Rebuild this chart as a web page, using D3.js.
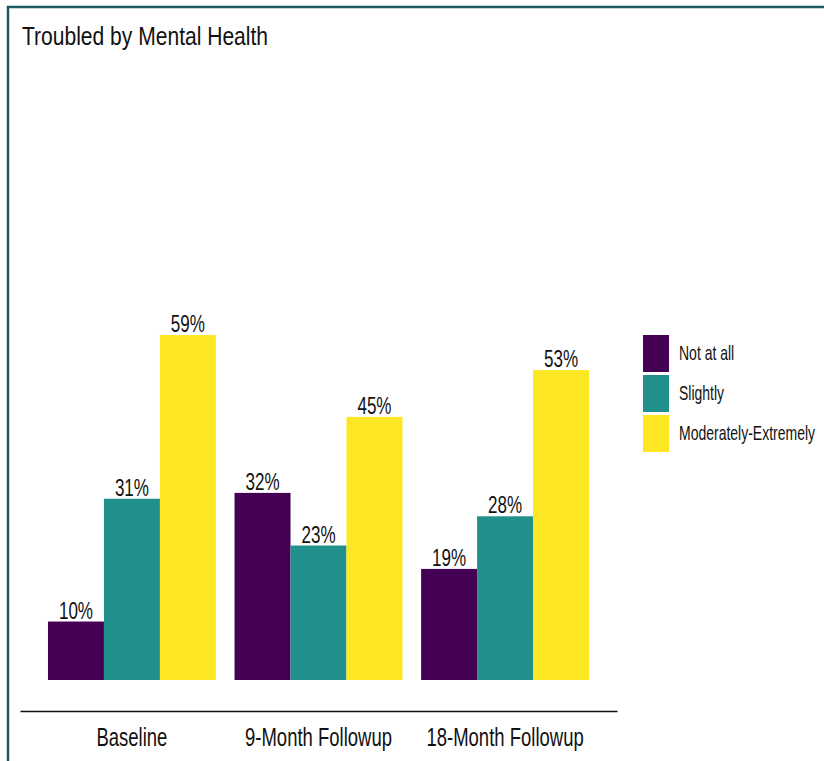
<!DOCTYPE html>
<html>
<head>
<meta charset="utf-8">
<script src="https://cdn.jsdelivr.net/npm/d3@7"></script>
<style>
  html, body { margin: 0; padding: 0; background: #fff; }
  svg { display: block; }
  text { font-family: "Liberation Sans", Arial, sans-serif; fill: #111; }
</style>
</head>
<body>
<svg id="chart" width="824" height="761"></svg>
<script>
// Survey waves shown along the x axis
const timepoints = ["Baseline", "9-Month Followup", "18-Month Followup"];
// Response levels (one bar per level within each wave)
const levels = ["Not at all", "Slightly", "Moderately-Extremely"];
// Share of respondents per level, one array per level, ordered by wave
const notAtAll = [0.10, 0.32, 0.19];
const slightly = [0.31, 0.23, 0.28];
const moderatelyExtremely = [0.59, 0.45, 0.53];
const levelColors = ["#440154", "#21908C", "#FDE725"];
const chartTitle = "Troubled by Mental Health";

const seriesValues = [notAtAll, slightly, moderatelyExtremely];
const rows = [];
timepoints.forEach((t, i) => {
  levels.forEach((lv, j) => rows.push({ time: t, level: lv, value: seriesValues[j][i] }));
});

// Horizontal squeeze used for the narrow lettering
const narrow = (sx) => `scale(${sx},1)`;

const svg = d3.select("#chart");

// Frame around the figure
svg.append("path")
  .attr("d", "M8,770 L8,7 L830,7")
  .attr("fill", "none")
  .attr("stroke", "#1d5960")
  .attr("stroke-width", 2.5);

svg.append("text")
  .attr("transform", "translate(22,45) " + narrow(0.81))
  .attr("font-size", 26)
  .text(chartTitle);

const x0 = d3.scaleBand().domain(timepoints).range([20, 617])
  .paddingInner(0.1).paddingOuter(0.15);
const x1 = d3.scaleBand().domain(levels).range([0, x0.bandwidth()]);
const y = d3.scaleLinear().domain([0, 1]).range([680, 95.3]);
const color = d3.scaleOrdinal().domain(levels).range(levelColors);

const groups = svg.append("g").selectAll("g")
  .data(timepoints).join("g")
  .attr("transform", d => `translate(${x0(d)},0)`);

groups.selectAll("rect")
  .data(t => rows.filter(r => r.time === t))
  .join("rect")
  .attr("x", d => x1(d.level))
  .attr("y", d => y(d.value))
  .attr("width", x1.bandwidth())
  .attr("height", d => y(0) - y(d.value))
  .attr("fill", d => color(d.level));

groups.selectAll("text.val")
  .data(t => rows.filter(r => r.time === t))
  .join("text")
  .attr("class", "val")
  .attr("transform", d => `translate(${x1(d.level) + x1.bandwidth() / 2},${y(d.value) - 3}) ` + narrow(0.71))
  .attr("text-anchor", "middle")
  .attr("font-size", 24)
  .text(d => d3.format(".0%")(d.value));

// Category axis along the bottom of the panel
const xAxis = svg.append("g")
  .attr("transform", "translate(0,711)")
  .call(d3.axisBottom(x0).tickSize(0).tickPadding(17).tickSizeOuter(0));
xAxis.select(".domain").attr("stroke", "#111").attr("stroke-width", 1.6);
xAxis.selectAll(".tick text")
  .attr("font-size", 25)
  .attr("font-family", "\"Liberation Sans\", Arial, sans-serif")
  .attr("fill", "#111")
  .attr("transform", narrow(0.74));

// Legend
const legend = svg.append("g").attr("transform", "translate(643,335)");
const item = legend.selectAll("g").data(levels).join("g")
  .attr("transform", (d, i) => `translate(0,${i * 40})`);
item.append("rect")
  .attr("width", 26).attr("height", 37)
  .attr("fill", d => color(d));
item.append("text")
  .attr("transform", "translate(36,25) " + narrow(0.70))
  .attr("font-size", 20)
  .text(d => d);
</script>
</body>
</html>
